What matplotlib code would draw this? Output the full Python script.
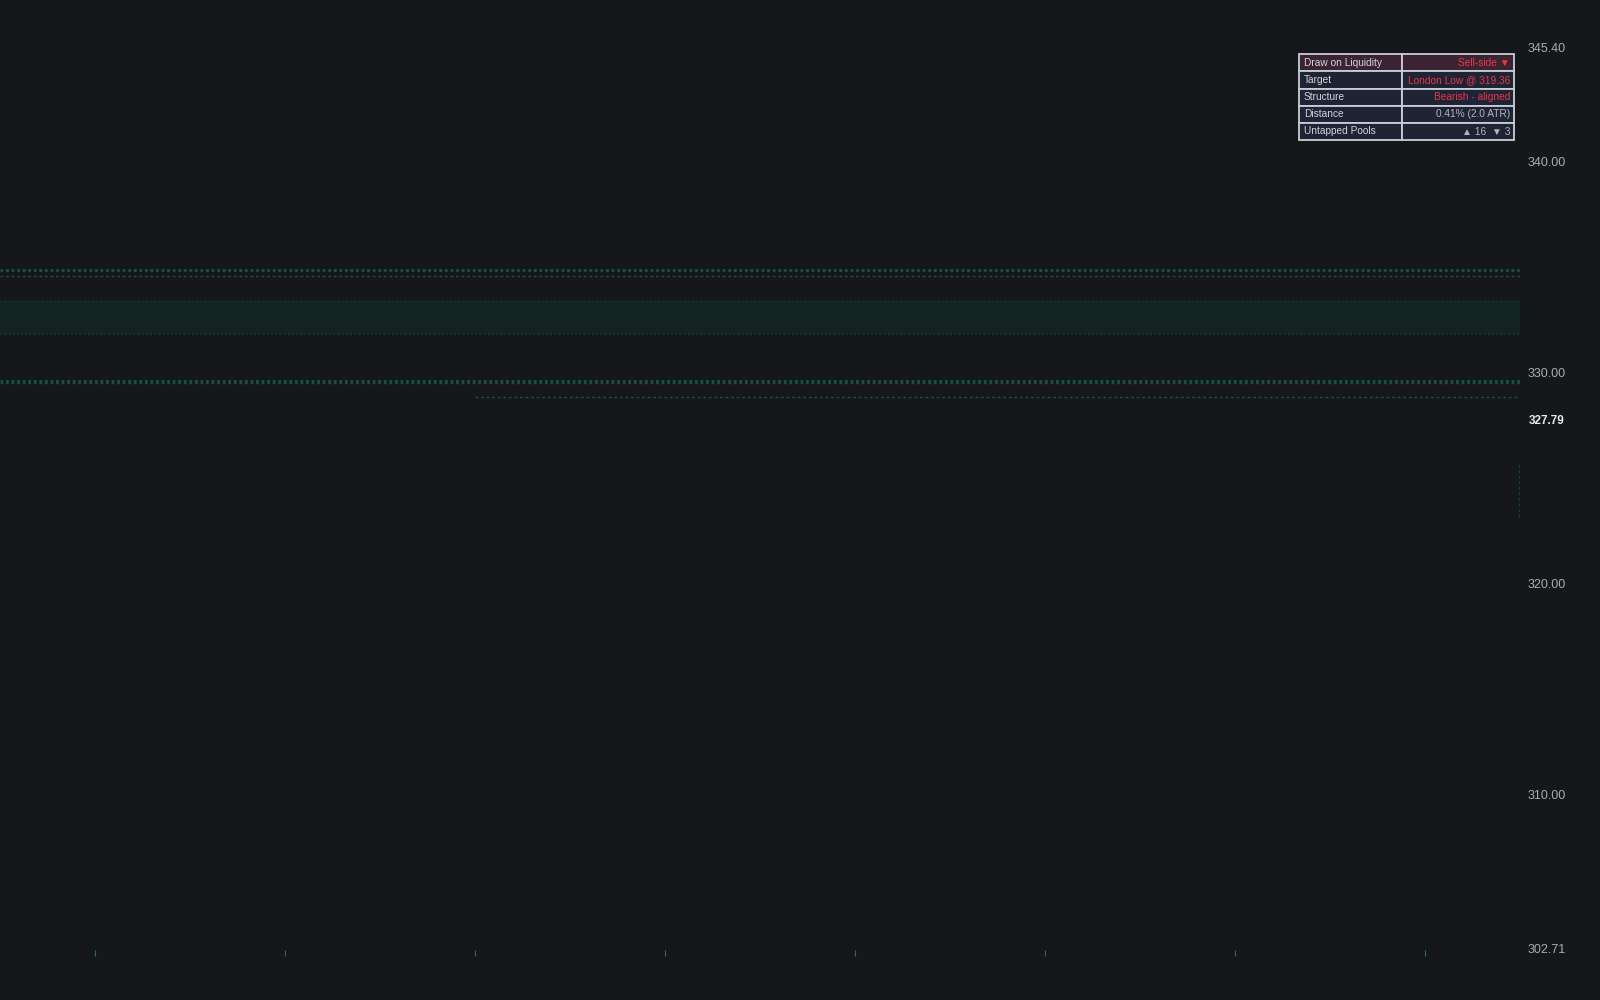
import matplotlib
matplotlib.use("Agg")
import matplotlib.pyplot as plt
from matplotlib.patches import Rectangle

plt.rcParams['font.family'] = ['Liberation Sans', 'DejaVu Sans']

bg = '#16171b'
teal = '#155248'
teal_dim = '#123f3a'

# price axis
y_lo, y_hi = 302.71, 345.40
y_ticks = [340.0, 330.0, 320.0, 310.0]
last_price = 327.79
n_bars = 80
x_ticks = [5, 15, 25, 35, 45, 55, 65, 75]

# liquidity levels
thick_levels = [334.93, 329.67]
thin_levels = [334.64, 329.57]
zone_lo, zone_hi = 331.89, 333.46
target_start, target_level = 25, 328.91
wick_lo, wick_hi = 323.22, 325.78

# dashboard table
tbl_labels = ['Draw on Liquidity', 'Target', 'Structure', 'Distance', 'Untapped Pools']
tbl_values = ['Sell-side ▼', 'London Low @ 319.36', 'Bearish - aligned', '0.41% (2.0 ATR)', '▲ 16  ▼ 3']
tbl_colors = ['#e8374b', '#e8374b', '#e8374b', '#b2b5be', '#b2b5be']

fig = plt.figure(figsize=(16, 10), dpi=100, facecolor=bg)
ax = fig.add_axes([0, 0.05, 0.95, 0.901])
ax.set_facecolor(bg)
ax.set_xlim(0, n_bars)
ax.set_ylim(y_lo, y_hi)
for s in ax.spines.values():
    s.set_visible(False)
ax.set_yticks([])
ax.set_xticks(x_ticks)
ax.set_xticklabels([])
ax.tick_params(axis='x', length=4, width=0.8, color='#2e6b66', direction='out')

for lv in thick_levels:
    ax.axhline(lv, color=teal, lw=2, ls=(0, (1, 1)))
for lv in thin_levels:
    ax.axhline(lv, color=teal, lw=1, ls=(0, (2, 2)))
ax.axhspan(zone_lo, zone_hi, color='#122322', lw=0)
ax.axhline(zone_lo, color=teal_dim, lw=1, ls=(0, (1, 2)))
ax.axhline(zone_hi, color=teal_dim, lw=1, ls=(0, (1, 2)))
ax.plot([target_start, n_bars], [target_level, target_level], color=teal, lw=1, ls=(0, (2, 2)))
ax.plot([n_bars - 0.05, n_bars - 0.05], [wick_lo, wick_hi], color=teal_dim, lw=1, ls=(0, (2, 2)))

# price labels
for t in [y_hi] + y_ticks + [y_lo]:
    ax.text(1.005, t, f'{t:.2f}', transform=ax.get_yaxis_transform(), color='#a9acb4',
            fontsize=9, va='center', ha='left', clip_on=False)
ax.text(1.006, last_price, f'{last_price:.2f}', transform=ax.get_yaxis_transform(), color='#e8e9ee',
        fontsize=8.5, fontweight='bold', va='center', ha='left', clip_on=False)

# table in pixel coords
ov = fig.add_axes([0, 0, 1, 1])
ov.set_xlim(0, 1600)
ov.set_ylim(1000, 0)
ov.axis('off')
x0, x1, x2 = 1299, 1402, 1514
top, rh = 54.3, 17.15
for i, (lab, val, col) in enumerate(zip(tbl_labels, tbl_values, tbl_colors)):
    y = top + i * rh
    fc = '#3b2331' if i == 0 else '#1e2433'
    ov.add_patch(Rectangle((x0, y), x1 - x0, rh, facecolor=fc, edgecolor='#c9cdd6', lw=1.3))
    ov.add_patch(Rectangle((x1, y), x2 - x1, rh, facecolor=fc, edgecolor='#c9cdd6', lw=1.3))
    ov.text(x0 + 5, y + rh / 2, lab, color='#d1d4dc', fontsize=7.3, va='center', ha='left')
    ov.text(x2 - 4, y + rh / 2, val, color=col, fontsize=7.3, va='center', ha='right')

fig.savefig('out.png', dpi=100, facecolor=bg)
